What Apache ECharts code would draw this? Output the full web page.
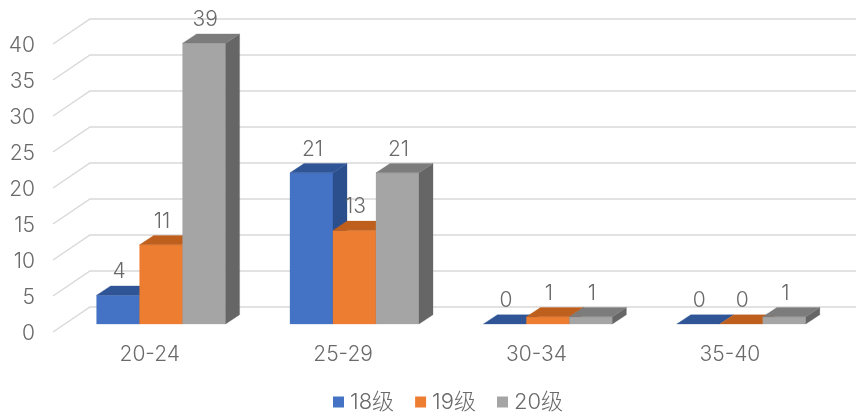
<!DOCTYPE html>
<html><head><meta charset="utf-8">
<style>html,body{margin:0;padding:0;background:#fff}#c{width:856px;height:417px;filter:blur(0.45px)}</style>
<script src="https://cdn.jsdelivr.net/npm/echarts@6/dist/echarts.min.js"></script>
</head><body><div id="c"></div>
<script>
const categories = ['20-24','25-29','30-34','35-40'];
const seriesNames = ['18级','19级','20级'];
const values18 = [4,21,0,0];
const values19 = [11,13,1,0];
const values20 = [39,21,1,1];
const gridTicks = [0,5,10,15,20,25,30,35,40];
const faces = [
  {front:'#4472C4', top:'#2F5597', side:'#2B4E8C'},
  {front:'#ED7D31', top:'#BE5F1E', side:'#A9541A'},
  {front:'#A5A5A5', top:'#7C7C7C', side:'#666666'}
];
const FONT = 'Inter,"Noto Sans CJK SC",sans-serif';
const WEIGHT = 300;
const SIZE = 21;
const TEXT = '#6A6A6A';
const BAR_W = 43, DEPTH_X = 14, DEPTH_Y = 9.3, LIFT = 8, GROUP_SHIFT = 11.4;
const WALL_X = 37, WALL_Y = 25;

function barSeries(name, vals, i){
  return {
    type:'custom', name, coordinateSystem:'cartesian2d', silent:true,
    itemStyle:{color:faces[i].front},
    encode:{x:0,y:1},
    data: vals.map((v,k)=>[k,v]),
    renderItem(params, api){
      const c = faces[i];
      const v = api.value(1);
      const p = api.coord([api.value(0), v]);
      const base = api.coord([api.value(0), 0])[1] - LIFT;
      const top = p[1] - LIFT;
      const x0 = p[0] + GROUP_SHIFT + (i-1.5)*BAR_W, x1 = x0 + BAR_W;
      const poly = (pts, fill) => ({type:'polygon', z2:i*10, shape:{points:pts}, style:{fill, stroke:fill, lineWidth:0.3}});
      const kids = [];
      if (base - top > 0) {
        kids.push(poly([[x0,top],[x1,top],[x1,base],[x0,base]], c.front));
        kids.push(poly([[x1,top],[x1+DEPTH_X,top-DEPTH_Y],[x1+DEPTH_X,base-DEPTH_Y],[x1,base]], c.side));
      }
      kids.push(poly([[x0,top],[x0+DEPTH_X,top-DEPTH_Y],[x1+DEPTH_X,top-DEPTH_Y],[x1,top]], c.top));
      kids.push({type:'text', z2:100, style:{
        text:String(v), x:(x0+x1)/2+1, y:top-DEPTH_Y-14, align:'center', verticalAlign:'middle',
        font:WEIGHT+' '+SIZE+'px '+FONT, fill:TEXT}});
      return {type:'group', children:kids};
    }
  };
}
const gridSeries = {
  type:'custom', coordinateSystem:'cartesian2d', silent:true, z:1,
  encode:{y:0}, data:gridTicks.map(v=>[v]),
  renderItem(params, api){
    const y = api.coord([0, api.value(0)])[1];
    const cs = params.coordSys;
    return {type:'polyline', shape:{points:[[cs.x,y],[cs.x+WALL_X,y-WALL_Y],[cs.x+cs.width+WALL_X,y-WALL_Y]]},
      style:{stroke:'#D9D9D9', lineWidth:1.5, fill:null}};
  }
};
const chart = echarts.init(document.getElementById('c'), null, {renderer:'canvas'});
chart.setOption({
  animation:false, backgroundColor:'#fff',
  grid:{left:53, top:44, width:773.6, height:288},
  legend:{left:333, top:391, padding:0, icon:'rect', itemWidth:11, itemHeight:11, itemGap:21, selectedMode:false,
    data:seriesNames, textStyle:{fontFamily:FONT, fontWeight:WEIGHT, fontSize:22, color:TEXT, padding:[0,0,0,1]}},
  xAxis:{type:'category', data:categories, axisLine:{show:false}, axisTick:{show:false}, splitLine:{show:false},
    axisLabel:{margin:12, fontFamily:FONT, fontWeight:WEIGHT, fontSize:SIZE, color:TEXT}},
  yAxis:{type:'value', min:0, max:40, interval:5, axisLine:{show:false}, axisTick:{show:false}, splitLine:{show:false},
    axisLabel:{margin:18, fontFamily:FONT, fontWeight:WEIGHT, fontSize:SIZE, color:TEXT, verticalAlign:'top', lineHeight:4}},
  series:[gridSeries, barSeries(seriesNames[0],values18,0), barSeries(seriesNames[1],values19,1), barSeries(seriesNames[2],values20,2)]
});
</script></body></html>
